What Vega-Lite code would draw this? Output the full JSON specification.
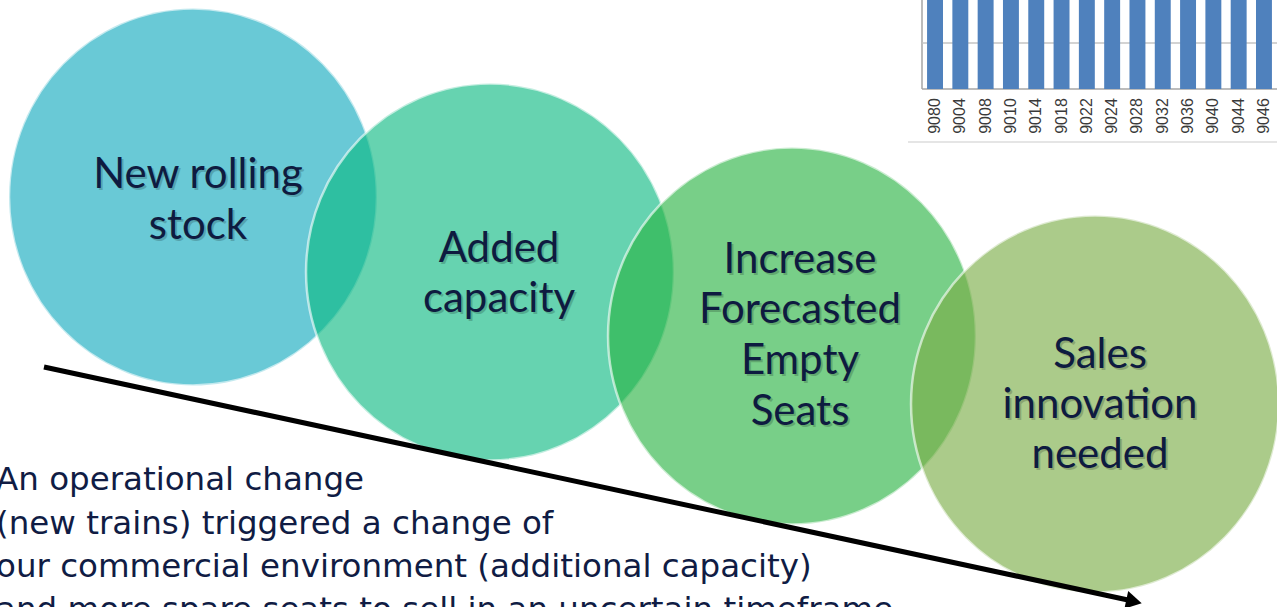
{
  "$schema": "https://vega.github.io/schema/vega-lite/v6.json",
  "width": 1277,
  "height": 607,
  "autosize": {"type": "none"},
  "padding": 0,
  "background": "white",
  "config": {"view": {"stroke": null}},
  "datasets": {
    "frame": [
      {"part": "axis", "x": 922, "x2": 922, "y": 0, "y2": 89},
      {"part": "grid", "x": 922, "x2": 1277, "y": 43, "y2": 43},
      {"part": "axis", "x": 922, "x2": 1277, "y": 89, "y2": 89},
      {"part": "edge", "x": 908, "x2": 1277, "y": 142, "y2": 142}
    ],
    "circles": [
      {"step": "New rolling stock", "cx": 193, "cy": 197},
      {"step": "Added capacity", "cx": 490, "cy": 272},
      {"step": "Increase Forecasted Empty Seats", "cx": 792, "cy": 336},
      {"step": "Sales innovation needed", "cx": 1095, "cy": 404}
    ],
    "labels": [
      {"line": "New rolling", "x": 198, "y": 188},
      {"line": "stock", "x": 198, "y": 239},
      {"line": "Added", "x": 499, "y": 262},
      {"line": "capacity", "x": 499, "y": 312},
      {"line": "Increase", "x": 800, "y": 273},
      {"line": "Forecasted", "x": 800, "y": 323},
      {"line": "Empty", "x": 800, "y": 374},
      {"line": "Seats", "x": 800, "y": 425},
      {"line": "Sales", "x": 1100, "y": 368},
      {"line": "innovation", "x": 1100, "y": 418},
      {"line": "needed", "x": 1100, "y": 468}
    ],
    "arrow": [
      {"x": 44, "y": 367, "x2": 1128, "y2": 600}
    ],
    "arrowhead": [
      {"x": 1134, "y": 601.5}
    ],
    "caption": [
      {"line": "An operational change", "x": -4, "y": 490},
      {"line": "(new trains) triggered a change of", "x": -4, "y": 534},
      {"line": "our commercial environment (additional capacity)", "x": -4, "y": 577},
      {"line": "and more spare seats to sell in an uncertain timeframe", "x": -4, "y": 620}
    ],
    "bars": [
      {"code": "9080", "value": 160},
      {"code": "9004", "value": 158},
      {"code": "9008", "value": 162},
      {"code": "9010", "value": 155},
      {"code": "9014", "value": 160},
      {"code": "9018", "value": 157},
      {"code": "9022", "value": 163},
      {"code": "9024", "value": 159},
      {"code": "9028", "value": 161},
      {"code": "9032", "value": 156},
      {"code": "9036", "value": 160},
      {"code": "9040", "value": 158},
      {"code": "9044", "value": 162},
      {"code": "9046", "value": 157}
    ]
  },
  "layer": [
    {
      "layer": [
        {
          "data": {"name": "frame"},
          "mark": {"type": "rule", "strokeWidth": 1.5},
          "encoding": {
            "x": {"field": "x", "type": "quantitative", "scale": {"domain": [0, 1277], "nice": false, "zero": false}, "axis": null},
            "x2": {"field": "x2"},
            "y": {"field": "y", "type": "quantitative", "scale": {"domain": [0, 607], "reverse": true, "nice": false, "zero": false}, "axis": null},
            "y2": {"field": "y2"},
            "stroke": {"field": "part", "type": "nominal", "scale": {"domain": ["axis", "grid", "edge"], "range": ["#A6A6A6", "#C4C4C4", "#DCDCDC"]}, "legend": null}
          }
        },
        {
          "data": {"name": "circles"},
          "mark": {
            "type": "point",
            "filled": true,
            "shape": "M0.976,0C0.976,0.5523,0.539,1,0,1C-0.539,1,-0.976,0.5523,-0.976,0C-0.976,-0.5523,-0.539,-1,0,-1C0.539,-1,0.976,-0.5523,0.976,0Z",
            "size": 142129,
            "opacity": 1,
            "fillOpacity": 0.63,
            "stroke": "white",
            "strokeWidth": 2.5,
            "strokeOpacity": 0.6
          },
          "encoding": {
            "x": {"field": "cx", "type": "quantitative", "scale": {"domain": [0, 1277], "nice": false, "zero": false}, "axis": null},
            "y": {"field": "cy", "type": "quantitative", "scale": {"domain": [0, 607], "reverse": true, "nice": false, "zero": false}, "axis": null},
            "fill": {
              "field": "step", "type": "nominal", "sort": null,
              "scale": {
                "domain": ["New rolling stock", "Added capacity", "Increase Forecasted Empty Seats", "Sales innovation needed"],
                "range": ["#11A9BE", "#0CB982", "#29B342", "#7AAC45"]
              },
              "legend": null
            }
          }
        },
        {
          "data": {"name": "labels"},
          "mark": {"type": "text", "font": "Lato", "fontSize": 42, "align": "center", "baseline": "alphabetic", "color": "#000000", "opacity": 0.18, "dx": 2, "dy": 2},
          "encoding": {
            "x": {"field": "x", "type": "quantitative", "scale": {"domain": [0, 1277], "nice": false, "zero": false}, "axis": null},
            "y": {"field": "y", "type": "quantitative", "scale": {"domain": [0, 607], "reverse": true, "nice": false, "zero": false}, "axis": null},
            "text": {"field": "line"}
          }
        },
        {
          "data": {"name": "labels"},
          "mark": {"type": "text", "font": "Lato", "fontSize": 42, "align": "center", "baseline": "alphabetic", "color": "#0E1B40"},
          "encoding": {
            "x": {"field": "x", "type": "quantitative", "scale": {"domain": [0, 1277], "nice": false, "zero": false}, "axis": null},
            "y": {"field": "y", "type": "quantitative", "scale": {"domain": [0, 607], "reverse": true, "nice": false, "zero": false}, "axis": null},
            "text": {"field": "line"}
          }
        },
        {
          "data": {"name": "arrow"},
          "mark": {"type": "rule", "strokeWidth": 5, "color": "#000000", "strokeCap": "butt"},
          "encoding": {
            "x": {"field": "x", "type": "quantitative", "scale": {"domain": [0, 1277], "nice": false, "zero": false}, "axis": null},
            "x2": {"field": "x2"},
            "y": {"field": "y", "type": "quantitative", "scale": {"domain": [0, 607], "reverse": true, "nice": false, "zero": false}, "axis": null},
            "y2": {"field": "y2"}
          }
        },
        {
          "data": {"name": "arrowhead"},
          "mark": {"type": "point", "shape": "triangle-right", "filled": true, "size": 330, "angle": 12, "opacity": 1, "color": "#000000"},
          "encoding": {
            "x": {"field": "x", "type": "quantitative", "scale": {"domain": [0, 1277], "nice": false, "zero": false}, "axis": null},
            "y": {"field": "y", "type": "quantitative", "scale": {"domain": [0, 607], "reverse": true, "nice": false, "zero": false}, "axis": null}
          }
        },
        {
          "data": {"name": "caption"},
          "mark": {"type": "text", "font": "DejaVu Sans", "fontSize": 32.5, "align": "left", "baseline": "alphabetic", "color": "#101C44"},
          "encoding": {
            "x": {"field": "x", "type": "quantitative", "scale": {"domain": [0, 1277], "nice": false, "zero": false}, "axis": null},
            "y": {"field": "y", "type": "quantitative", "scale": {"domain": [0, 607], "reverse": true, "nice": false, "zero": false}, "axis": null},
            "text": {"field": "line"}
          }
        }
      ]
    },
    {
      "layer": [
        {
          "data": {"name": "bars"},
          "mark": {"type": "bar", "color": "#4F81BD"},
          "encoding": {
            "x": {"field": "code", "type": "nominal", "sort": null, "scale": {"range": [922, 1277], "paddingInner": 0.37, "paddingOuter": 0.2}, "axis": null},
            "y": {"field": "value", "type": "quantitative", "scale": {"domain": [0, 100], "range": [89, -3], "nice": false}, "axis": null}
          }
        },
        {
          "data": {"name": "bars"},
          "mark": {"type": "text", "angle": 270, "align": "right", "baseline": "middle", "font": "Liberation Sans", "fontSize": 16, "color": "#3A3A3A"},
          "encoding": {
            "x": {"field": "code", "type": "nominal", "sort": null, "scale": {"range": [922, 1277], "paddingInner": 0.37, "paddingOuter": 0.2}, "axis": null},
            "y": {"datum": -10, "type": "quantitative", "scale": {"domain": [0, 100], "range": [89, -3], "nice": false}, "axis": null},
            "text": {"field": "code"}
          }
        }
      ]
    }
  ],
  "resolve": {"scale": {"x": "independent", "y": "independent"}}
}
